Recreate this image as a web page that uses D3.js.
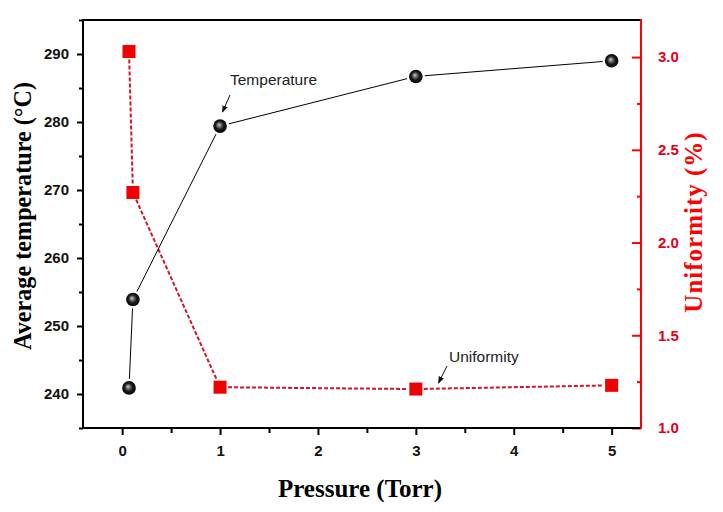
<!DOCTYPE html>
<html><head><meta charset="utf-8">
<script src="https://cdn.jsdelivr.net/npm/d3@7/dist/d3.min.js"></script>
<style>html,body{margin:0;padding:0;background:#fff;}svg{display:block;}</style>
</head><body>
<svg id="chart" width="723" height="512"></svg>
<script>
// ---- data ----
const pressure = [0.07, 0.11, 1, 3, 5];
const temperature = [240.9, 253.9, 279.4, 286.7, 289.0];
const uniformity = [3.03, 2.27, 1.22, 1.21, 1.23];
const xTicks = [0, 1, 2, 3, 4, 5];
const xMinor = [0.5, 1.5, 2.5, 3.5, 4.5];
const yTicks = [240, 250, 260, 270, 280, 290];
const yMinor = [235, 245, 255, 265, 275, 285, 295];
const y2Ticks = [1.0, 1.5, 2.0, 2.5, 3.0];
const y2Minor = [1.25, 1.75, 2.25, 2.75];

const svg = d3.select("#chart");
const L = 83, R = 641, T = 20, B = 428;
const x = d3.scaleLinear().domain([-0.4, 5.3]).range([L, R]);
const y = d3.scaleLinear().domain([235, 295]).range([B, T]);
const y2 = d3.scaleLinear().domain([1.0, 3.2]).range([B, T]);

const defs = svg.append("defs");
const grad = defs.append("radialGradient").attr("id", "ball")
  .attr("cx", "50%").attr("cy", "50%").attr("r", "55%")
  .attr("fx", "42%").attr("fy", "40%");
grad.append("stop").attr("offset", "0%").attr("stop-color", "#d8d8d8");
grad.append("stop").attr("offset", "18%").attr("stop-color", "#8a8a8a");
grad.append("stop").attr("offset", "55%").attr("stop-color", "#1a1a1a");
grad.append("stop").attr("offset", "100%").attr("stop-color", "#000");
defs.append("marker").attr("id", "arrow").attr("viewBox", "0 0 10 10")
  .attr("refX", 9).attr("refY", 5).attr("markerWidth", 7).attr("markerHeight", 7)
  .attr("markerUnits", "userSpaceOnUse").attr("orient", "auto")
  .append("path").attr("d", "M0,1 L10,5 L0,9 Z").attr("fill", "#111");

const red = "#ff0000", redText = "#e3001b";

// axes
svg.append("g").attr("transform", `translate(0,${B})`)
  .call(d3.axisBottom(x).tickValues(xTicks).tickFormat(d3.format("d")).tickSize(7).tickPadding(10));
svg.append("g").attr("transform", `translate(0,${B})`)
  .call(d3.axisBottom(x).tickValues(xMinor).tickFormat("").tickSize(5));
svg.append("g").attr("transform", `translate(${L},0)`)
  .call(d3.axisLeft(y).tickValues(yTicks).tickSize(6).tickPadding(8));
svg.append("g").attr("transform", `translate(${L},0)`)
  .call(d3.axisLeft(y).tickValues(yMinor).tickFormat("").tickSize(4));
const gR = svg.append("g").attr("transform", `translate(${R},0)`)
  .call(d3.axisRight(y2).tickValues(y2Ticks).tickFormat(d3.format(".1f")).tickSize(-9).tickPadding(17));
const gR2 = svg.append("g").attr("transform", `translate(${R},0)`)
  .call(d3.axisRight(y2).tickValues(y2Minor).tickFormat("").tickSize(-4));

svg.selectAll(".tick text").attr("font-family", "Arial, 'Liberation Sans', sans-serif")
  .attr("font-weight", "bold").attr("font-size", 15).attr("fill", "#111");
gR.selectAll(".tick text").attr("fill", redText);
svg.selectAll(".tick line").attr("stroke-width", 2);
gR.selectAll(".tick line").attr("stroke", red);
gR2.selectAll(".tick line").attr("stroke", red);
svg.selectAll(".domain").remove();

// frame
svg.append("line").attr("x1", L).attr("x2", R).attr("y1", T).attr("y2", T).attr("stroke", "#000").attr("stroke-width", 2);
svg.append("line").attr("x1", L).attr("x2", R).attr("y1", B).attr("y2", B).attr("stroke", "#000").attr("stroke-width", 2);
svg.append("line").attr("x1", L).attr("x2", L).attr("y1", T - 1).attr("y2", B + 1).attr("stroke", "#000").attr("stroke-width", 2);
svg.append("line").attr("x1", R).attr("x2", R).attr("y1", T - 1).attr("y2", B + 1).attr("stroke", red).attr("stroke-width", 2);

// helper to draw segments with gaps at markers
function segments(xs, ys, gap) {
  const pts = xs.map((v, i) => [x(v), ys[i]]);
  const segs = [];
  for (let i = 0; i < pts.length - 1; i++) {
    const [x1, y1] = pts[i], [x2, y2_] = pts[i + 1];
    const dx = x2 - x1, dy = y2_ - y1, len = Math.hypot(dx, dy);
    const ux = dx / len, uy = dy / len;
    segs.push([x1 + ux * gap, y1 + uy * gap, x2 - ux * gap, y2_ - uy * gap]);
  }
  return segs;
}

// uniformity line (red dashed)
svg.append("g").selectAll("line").data(segments(pressure, uniformity.map(v => y2(v)), 8)).join("line")
  .attr("x1", d => d[0]).attr("y1", d => d[1]).attr("x2", d => d[2]).attr("y2", d => d[3])
  .attr("stroke", "#d4142a").attr("stroke-width", 2).attr("stroke-dasharray", "4,2");
// temperature line (black)
svg.append("g").selectAll("line").data(segments(pressure, temperature.map(v => y(v)), 9)).join("line")
  .attr("x1", d => d[0]).attr("y1", d => d[1]).attr("x2", d => d[2]).attr("y2", d => d[3])
  .attr("stroke", "#000").attr("stroke-width", 1);

// markers
svg.append("g").selectAll("rect").data(pressure).join("rect")
  .attr("x", (d) => x(d) - 6.5).attr("y", (d, i) => y2(uniformity[i]) - 6.5)
  .attr("width", 13).attr("height", 13).attr("fill", "#f00000");
svg.append("g").selectAll("circle").data(pressure).join("circle")
  .attr("cx", d => x(d)).attr("cy", (d, i) => y(temperature[i])).attr("r", 6.8)
  .attr("fill", "url(#ball)");

// annotations
const annFont = "Arial, 'Liberation Sans', sans-serif";
svg.append("text").attr("x", 230).attr("y", 85).attr("font-family", annFont)
  .attr("font-size", 15.5).attr("fill", "#222").text("Temperature");
svg.append("line").attr("x1", 230).attr("y1", 95).attr("x2", 222.5).attr("y2", 112)
  .attr("stroke", "#111").attr("stroke-width", 1).attr("marker-end", "url(#arrow)");
svg.append("text").attr("x", 449).attr("y", 362).attr("font-family", annFont)
  .attr("font-size", 15.5).attr("fill", "#222").text("Uniformity");
svg.append("line").attr("x1", 447).attr("y1", 366).attr("x2", 438.5).attr("y2", 383)
  .attr("stroke", "#111").attr("stroke-width", 1).attr("marker-end", "url(#arrow)");

// axis titles
const serif = "'Times New Roman', 'Liberation Serif', serif";
svg.append("text").attr("x", 360).attr("y", 497).attr("text-anchor", "middle")
  .attr("font-family", serif).attr("font-weight", "bold").attr("font-size", 25)
  .attr("fill", "#000").text("Pressure (Torr)");
svg.append("text").attr("transform", "translate(31,216) rotate(-90)").attr("text-anchor", "middle")
  .attr("font-family", serif).attr("font-weight", "bold").attr("font-size", 24.2)
  .attr("fill", "#000").text("Average temperature (°C)");
svg.append("text").attr("transform", "translate(702,222) rotate(-90)").attr("text-anchor", "middle")
  .attr("font-family", serif).attr("font-weight", "bold").attr("font-size", 25)
  .attr("letter-spacing", 1).attr("fill", red).text("Uniformity (%)");
</script>
</body></html>
